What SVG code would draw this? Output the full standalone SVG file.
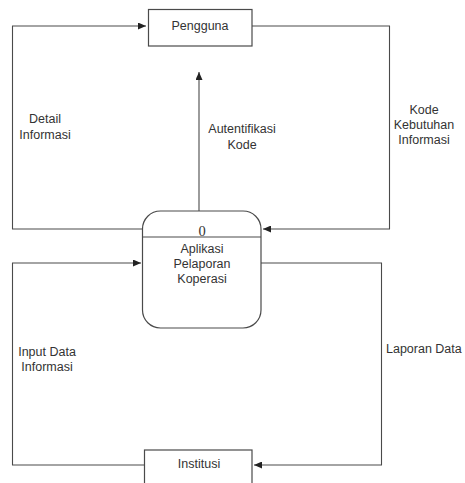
<svg xmlns="http://www.w3.org/2000/svg" width="465" height="483" viewBox="0 0 465 483">
<style>
.ln{fill:none;stroke:#4a4a4a;stroke-width:1.1}
.bx{fill:#fff;stroke:#4a4a4a;stroke-width:1.2}
.t{font-family:"Liberation Sans",Arial,sans-serif;font-size:12.5px;fill:#333;text-anchor:middle}
</style>
<defs>
<marker id="ah" markerWidth="8" markerHeight="7" refX="8" refY="3.5" orient="auto" markerUnits="userSpaceOnUse">
<path d="M0,0 L8,3.5 L0,7 Z" fill="#222"/>
</marker>
</defs>
<g id="connectors">
<polyline class="ln" points="142,229 12.5,229 12.5,26 146,26" marker-end="url(#ah)"/>
<polyline class="ln" points="252,26 389.5,26 389.5,229 263,229" marker-end="url(#ah)"/>
<line class="ln" x1="199" y1="211" x2="199" y2="72" marker-end="url(#ah)"/>
<polyline class="ln" points="144,465 12.5,465 12.5,263 141,263" marker-end="url(#ah)"/>
<polyline class="ln" points="261,263 381.5,263 381.5,465 254,465" marker-end="url(#ah)"/>
</g>
<g id="pengguna">
<rect class="bx" x="148.5" y="9.5" width="103.5" height="36.5"/>
<text class="t" x="200" y="29.5">Pengguna</text>
</g>
<g id="proses">
<rect class="bx" x="142.5" y="211" width="118.5" height="117" rx="18" ry="18"/>
<line class="ln" x1="142.5" y1="237" x2="261" y2="237"/>
<text x="202" y="235.5" style="font-family:'Liberation Serif',serif;font-size:14.5px;fill:#333;text-anchor:middle">0</text>
<text class="t" x="202" y="252.5">Aplikasi</text>
<text class="t" x="202" y="267.5">Pelaporan</text>
<text class="t" x="202" y="282.5">Koperasi</text>
</g>
<g id="institusi">
<rect class="bx" x="144.5" y="450" width="107.5" height="40"/>
<text class="t" x="199" y="468">Institusi</text>
</g>
<g id="labels">
<text class="t" x="45" y="123">Detail</text>
<text class="t" x="45" y="139">Informasi</text>
<text class="t" x="242" y="133">Autentifikasi</text>
<text class="t" x="242" y="149">Kode</text>
<text class="t" x="424" y="114">Kode</text>
<text class="t" x="424" y="129">Kebutuhan</text>
<text class="t" x="424" y="144">Informasi</text>
<text class="t" x="47" y="356">Input Data</text>
<text class="t" x="47" y="371">Informasi</text>
<text class="t" x="386" y="353" style="text-anchor:start">Laporan Data</text>
</g>
</svg>
